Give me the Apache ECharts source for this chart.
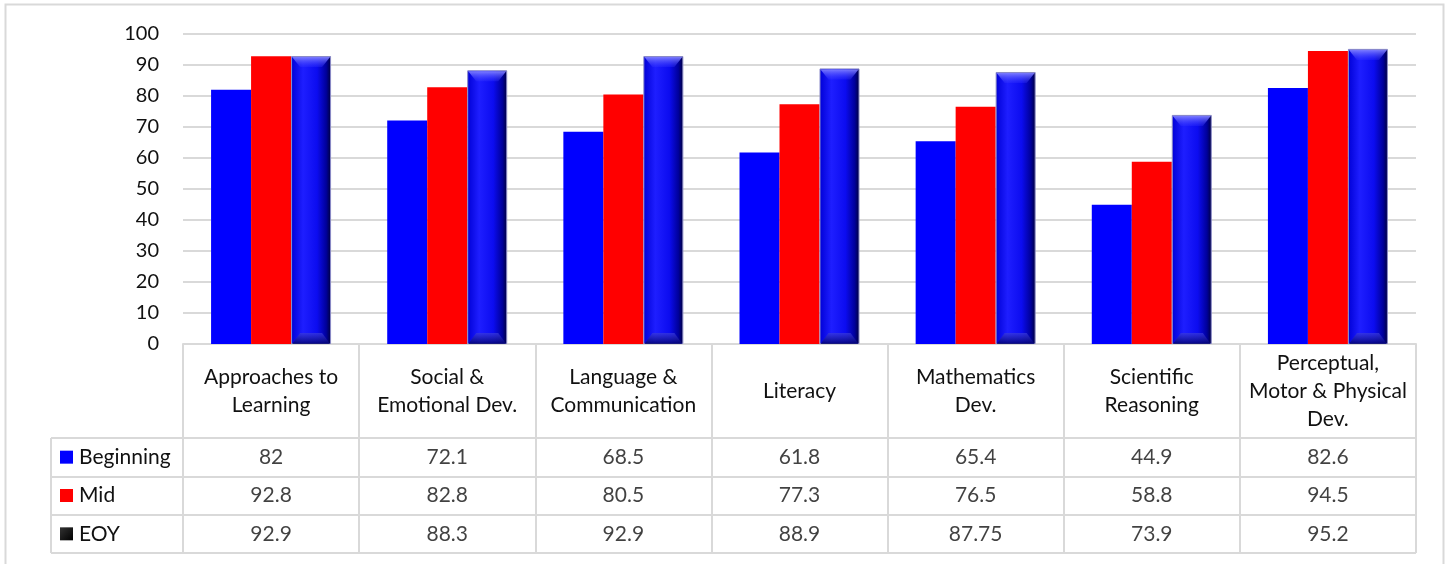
<!DOCTYPE html>
<html>
<head>
<meta charset="utf-8">
<script src="https://cdn.jsdelivr.net/npm/echarts@6/dist/echarts.min.js"></script>
<style>
  html, body { margin: 0; padding: 0; background: #fff; }
  #chart { width: 1449px; height: 564px; }
</style>
</head>
<body>
<div id="chart"></div>
<script>
// domain names (line breaks as in the data table header)
var categories = [
    'Approaches to\nLearning',
    'Social &\nEmotional Dev.',
    'Language &\nCommunication',
    'Literacy',
    'Mathematics\nDev.',
    'Scientific\nReasoning',
    'Perceptual,\nMotor & Physical\nDev.'
];
var seriesNames = ['Beginning', 'Mid', 'EOY'];
var beginning = [82, 72.1, 68.5, 61.8, 65.4, 44.9, 82.6];
var mid = [92.8, 82.8, 80.5, 77.3, 76.5, 58.8, 94.5];
var eoy = [92.9, 88.3, 92.9, 88.9, 87.75, 73.9, 95.2];
var yTicks = [0, 10, 20, 30, 40, 50, 60, 70, 80, 90, 100];

var FONT = 'Lato';
var GRID_GRAY = '#d9d9d9';
var TEXT = '#111';
var TABLE_FS = 21;

var rows = [beginning, mid, eoy];
var tableCells = [];
for (let r = 0; r < rows.length; r++) {
    for (let i = 0; i < rows[r].length; i++) {
        tableCells.push([i, r, rows[r][i]]);
    }
}

var chartDom = document.getElementById('chart');
var myChart = echarts.init(chartDom);

var eoyFill = new echarts.graphic.LinearGradient(0, 0, 1, 0, [
    {offset: 0, color: '#0000d6'},
    {offset: 0.3, color: '#1e1eff'},
    {offset: 0.65, color: '#0c0cf0'},
    {offset: 0.88, color: '#00009a'},
    {offset: 1, color: '#00003a'}
]);

function bevelItem(params, api) {
    var val = api.value(1);
    var top = api.coord([api.value(0), val]);
    var base = api.coord([api.value(0), 0]);
    var band = api.size([1, 0])[0];
    var w = band * 0.6815 / 3;
    var x = top[0] + w / 2;
    var y = top[1];
    var b = base[1];
    var d = 9;
    return {
        type: 'group',
        children: [{
            type: 'polygon',
            shape: {points: [[x + 1, y + 1], [x + w - 1, y + 1], [x + w - d, y + d + 2], [x + d, y + d + 2]]},
            style: {
                fill: new echarts.graphic.LinearGradient(0, 0, 0, 1, [
                    {offset: 0, color: 'rgba(130,130,255,0.95)'},
                    {offset: 1, color: 'rgba(60,60,255,0.25)'}
                ])
            }
        }, {
            type: 'polygon',
            shape: {points: [[x + d, b - d - 2], [x + w - d, b - d - 2], [x + w - 1, b], [x + 1, b]]},
            style: {
                fill: new echarts.graphic.LinearGradient(0, 0, 0, 1, [
                    {offset: 0, color: 'rgba(60,60,220,0.7)'},
                    {offset: 1, color: 'rgba(0,0,110,0.85)'}
                ])
            }
        }]
    };
}

var option = {
    animation: false,
    textStyle: {fontFamily: FONT},
    graphic: [{
        type: 'rect',
        shape: {x: 5.5, y: 4.5, width: 1438, height: 600},
        style: {fill: 'none', stroke: GRID_GRAY, lineWidth: 2},
        silent: true
    }],
    grid: [
        {left: 183, right: 33, top: 34, height: 310},
        {left: 51, width: 132, top: 438, height: 115},
        {left: 183, right: 33, top: 438, height: 115}
    ],
    xAxis: [{
        type: 'category',
        gridIndex: 0,
        data: categories,
        axisLine: {show: true, lineStyle: {color: GRID_GRAY, width: 2}},
        axisTick: {show: true, interval: 0, length: 94, lineStyle: {color: GRID_GRAY, width: 2}},
        axisLabel: {
            interval: 0, margin: 47, verticalAlign: 'middle', align: 'center',
            lineHeight: 28, fontSize: TABLE_FS, color: TEXT, fontFamily: FONT
        },
        splitLine: {show: false}
    }, {
        type: 'category',
        gridIndex: 1,
        data: [''],
        axisLine: {show: false},
        axisTick: {show: false},
        axisLabel: {show: false},
        splitLine: {show: true, interval: 0, lineStyle: {color: GRID_GRAY, width: 2}}
    }, {
        type: 'category',
        gridIndex: 2,
        data: categories,
        axisLine: {show: false},
        axisTick: {show: false},
        axisLabel: {show: false},
        splitLine: {show: true, interval: 0, lineStyle: {color: GRID_GRAY, width: 2}}
    }],
    yAxis: [{
        type: 'value',
        gridIndex: 0,
        min: yTicks[0],
        max: yTicks[yTicks.length - 1],
        interval: 10,
        axisLine: {show: false},
        axisTick: {show: false},
        axisLabel: {margin: 24, fontSize: 20, color: TEXT, fontFamily: FONT},
        splitLine: {show: true, lineStyle: {color: GRID_GRAY, width: 2}}
    }, {
        type: 'category',
        gridIndex: 1,
        inverse: true,
        data: seriesNames,
        axisLine: {show: false},
        axisTick: {show: false},
        axisLabel: {
            inside: true, margin: 9, fontSize: TABLE_FS, color: TEXT, fontFamily: FONT,
            formatter: function (value, index) {
                return '{m' + index + '|}{t|' + value + '}';
            },
            rich: {
                m0: {width: 13, height: 13, backgroundColor: '#0000ff'},
                m1: {width: 13, height: 13, backgroundColor: '#ff0000'},
                m2: {
                    width: 13, height: 13,
                    backgroundColor: new echarts.graphic.LinearGradient(0, 0, 1, 1, [
                        {offset: 0, color: '#333'}, {offset: 1, color: '#000'}
                    ])
                },
                t: {padding: [0, 0, 0, 6], fontSize: TABLE_FS, color: TEXT, fontFamily: FONT}
            }
        },
        splitLine: {show: true, interval: 0, lineStyle: {color: GRID_GRAY, width: 2}}
    }, {
        type: 'category',
        gridIndex: 2,
        inverse: true,
        data: seriesNames,
        axisLine: {show: false},
        axisTick: {show: false},
        axisLabel: {show: false},
        splitLine: {show: true, interval: 0, lineStyle: {color: GRID_GRAY, width: 2}}
    }],
    series: [{
        name: 'Beginning',
        type: 'bar',
        xAxisIndex: 0, yAxisIndex: 0,
        barWidth: 40, barGap: '0%',
        itemStyle: {color: '#0000ff'},
        data: beginning
    }, {
        name: 'Mid',
        type: 'bar',
        xAxisIndex: 0, yAxisIndex: 0,
        barWidth: 40, barGap: '0%',
        itemStyle: {color: '#ff0000'},
        data: mid
    }, {
        name: 'EOY',
        type: 'bar',
        xAxisIndex: 0, yAxisIndex: 0,
        barWidth: 40, barGap: '0%',
        itemStyle: {color: eoyFill, borderColor: '#8a8ac8', borderWidth: 1},
        data: eoy
    }, {
        name: 'EOY bevel',
        type: 'custom',
        xAxisIndex: 0, yAxisIndex: 0,
        silent: true,
        z: 3,
        renderItem: bevelItem,
        data: eoy.map(function (v, i) { return [i, v]; })
    }, {
        name: 'table',
        type: 'scatter',
        xAxisIndex: 2, yAxisIndex: 2,
        symbolSize: 1,
        itemStyle: {color: 'rgba(0,0,0,0)'},
        label: {
            show: true, position: 'inside', fontSize: TABLE_FS, color: TEXT, fontFamily: FONT,
            formatter: function (p) { return String(p.data[2]); }
        },
        data: tableCells
    }]
};

myChart.setOption(option);
</script>
</body>
</html>
